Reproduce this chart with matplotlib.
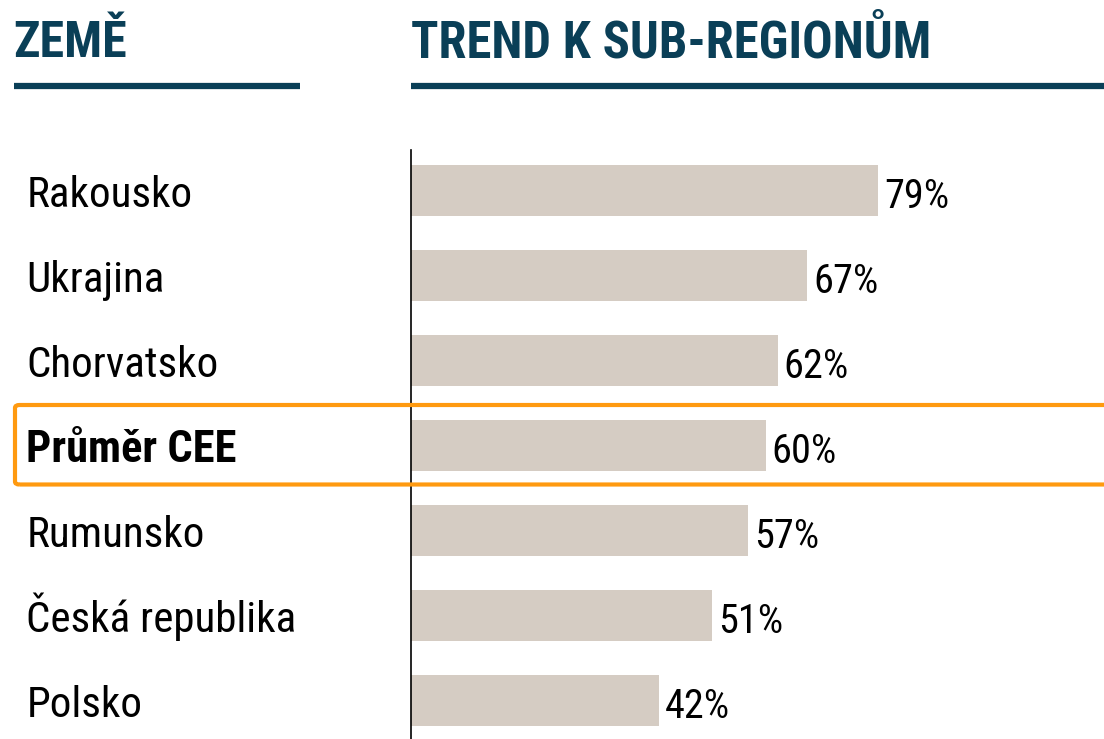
import matplotlib
matplotlib.use("Agg")
import matplotlib.pyplot as plt
from matplotlib import font_manager, transforms
from matplotlib.patches import FancyBboxPatch
from matplotlib.lines import Line2D

names = {f.name for f in font_manager.fontManager.ttflist}
FONT = "Roboto Condensed" if "Roboto Condensed" in names else "Liberation Sans"
plt.rcParams["font.family"] = [FONT, "DejaVu Sans"]

# data
countries = ["Rakousko", "Ukrajina", "Chorvatsko", "Průměr CEE", "Rumunsko", "Česká republika", "Polsko"]
values = [79, 67, 62, 60, 57, 51, 42]
highlight = "Průměr CEE"
header_left = "ZEMĚ"
header_right = "TREND K SUB-REGIONŮM"

W, H = 1104, 739
DARK = "#0A3F57"
BAR = "#D5CCC3"
ORANGE = "#FF9A10"

fig = plt.figure(figsize=(W / 100, H / 100), dpi=100)
fig.patch.set_facecolor("white")

def fx(px):
    return px / W

def fy(py):
    return 1 - py / H

ax = fig.add_axes([fx(410.5), 0, fx(W - 410.5), (H - 150) / H])
ypos = list(range(len(countries)))
ax.barh(ypos, values, height=0.6, color=BAR, left=0)
ax.set_xlim(0, (W - 410.5) / 5.92)
ax.set_ylim(len(countries) - 1 + 0.447, -0.476)
for s in ["top", "right", "bottom"]:
    ax.spines[s].set_visible(False)
ax.spines["left"].set_color("black")
ax.spines["left"].set_linewidth(1.2)
ax.set_xticks([])
ax.set_yticks([])
ax.patch.set_alpha(0)

px_per_unit = (H - 150) / (len(countries) - 1 + 0.447 + 0.476)
blend = transforms.blended_transform_factory(fig.transFigure, ax.transData)
for i, (c, v) in enumerate(zip(countries, values)):
    bold = c == highlight
    ax.text(fx(26.5), i + 16.5 / px_per_unit, c, transform=blend, fontsize=32 if bold else 31,
            fontweight="bold" if bold else "normal", color="black", va="baseline", ha="left")
    ax.annotate(f"{v}%", xy=(v, i + 17.5 / px_per_unit), xytext=(4.3, 0),
                textcoords="offset points", fontsize=29, va="baseline", ha="left",
                color="black")

# headers
fig.text(fx(13), fy(57), header_left, fontsize=36, fontweight="bold", color=DARK, va="baseline")
fig.text(fx(411), fy(58), header_right, fontsize=36.5, fontweight="bold", color=DARK, va="baseline")
fig.add_artist(Line2D([fx(14), fx(300)], [fy(85.7), fy(85.7)], color=DARK, lw=4.5,
                      solid_capstyle="butt", transform=fig.transFigure))
fig.add_artist(Line2D([fx(410.5), fx(W + 5)], [fy(85.7), fy(85.7)], color=DARK, lw=4.5,
                      solid_capstyle="butt", transform=fig.transFigure))

# highlight box
box = FancyBboxPatch((fx(15), fy(484.5)), fx(W + 20 - 15), (484.5 - 405) / H,
                     boxstyle="round,pad=0,rounding_size=0.004", transform=fig.transFigure,
                     fill=False, edgecolor=ORANGE, linewidth=3, clip_on=False)
fig.add_artist(box)

fig.savefig("out.png", dpi=100)
